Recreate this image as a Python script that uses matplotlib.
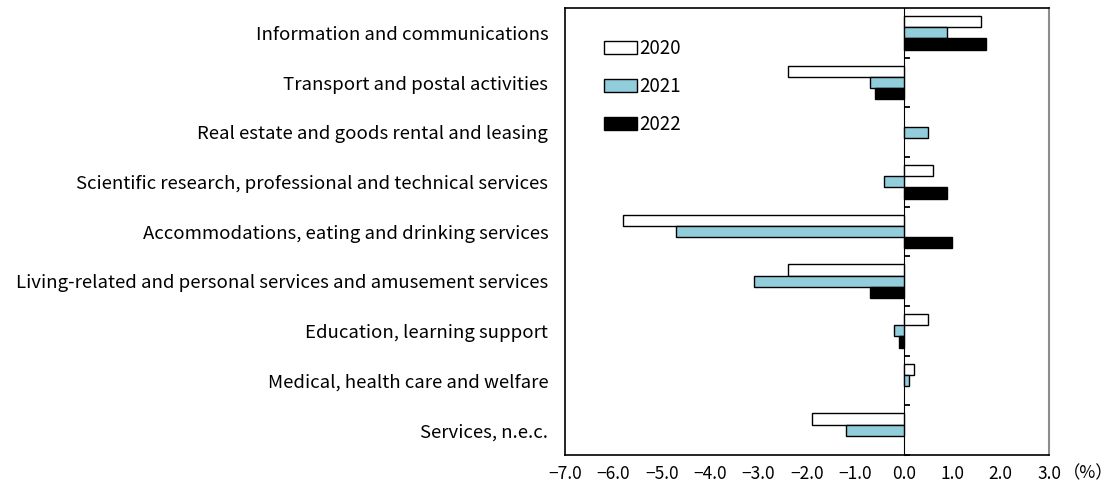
import numpy as np
import matplotlib
matplotlib.use("Agg")
import matplotlib.pyplot as plt
from matplotlib.patches import Patch

plt.rcParams['font.family'] = ['Noto Sans CJK JP', 'DejaVu Sans']

# datos (%)
categories = [
    "Information and communications",
    "Transport and postal activities",
    "Real estate and goods rental and leasing",
    "Scientific research, professional and technical services",
    "Accommodations, eating and drinking services",
    "Living-related and personal services and amusement services",
    "Education, learning support",
    "Medical, health care and welfare",
    "Services, n.e.c.",
]
v2020 = [1.6, -2.4, 0.0, 0.6, -5.8, -2.4, 0.5, 0.2, -1.9]
v2021 = [0.9, -0.7, 0.5, -0.4, -4.7, -3.1, -0.2, 0.1, -1.2]
v2022 = [1.7, -0.6, 0.0, 0.9, 1.0, -0.7, -0.1, 0.0, 0.0]
years = ["2020", "2021", "2022"]
xticks = np.arange(-7, 4, 1)

colors = ["white", "#92CDDC", "black"]

fig = plt.figure(figsize=(11.12, 4.91), dpi=100)
ax = fig.add_axes([0.5081, 0.0733, 0.4353, 0.9104])

y = np.arange(len(categories))
h = 0.227
for i, vals in enumerate([v2020, v2021, v2022]):
    vals = np.array(vals)
    mask = vals != 0
    ax.barh(y[mask] + (i - 1) * h, vals[mask], height=h, color=colors[i],
            edgecolor="black", linewidth=1.0)

ax.set_xlim(-7, 3)
ax.set_ylim(len(categories) - 0.5, -0.5)

ax.set_yticks(y)
ax.set_yticklabels(categories, fontsize=13.4)
ax.tick_params(axis="y", length=0, pad=12)

ax.set_xticks(xticks)
ax.set_xticklabels([f"{t:.1f}".replace("-", "\u2212") for t in xticks], fontsize=12.5)
ax.tick_params(axis="x", length=0, pad=7)
ax.annotate("\uff08%\uff09", xy=(1.0, 0), xycoords="axes fraction",
            xytext=(10, -7), textcoords="offset points", fontsize=12.5,
            ha="left", va="top")

# linea del cero con marcas entre categorias
sec = ax.secondary_yaxis(0.7)
sec.set_yticks(np.arange(0.5, len(categories), 1.0))
sec.set_yticklabels([])
sec.tick_params(direction="out", length=4.5, width=1.3, color="black")
sec.spines["left"].set_linewidth(1.2)

for s in ["left", "top", "bottom"]:
    ax.spines[s].set_linewidth(1.2)
    ax.spines[s].set_color("black")
ax.spines["right"].set_color("#8c8c8c")
ax.spines["right"].set_linewidth(1.5)

handles = [Patch(facecolor=c, edgecolor="black", linewidth=1.0) for c in colors]
ax.legend(handles, years, loc="upper left", bbox_to_anchor=(0.045, 0.97),
          frameon=False, fontsize=13.5, handlelength=1.8, handleheight=0.65,
          handletextpad=0.1, labelspacing=0.9)

plt.savefig("out.png", dpi=100)
